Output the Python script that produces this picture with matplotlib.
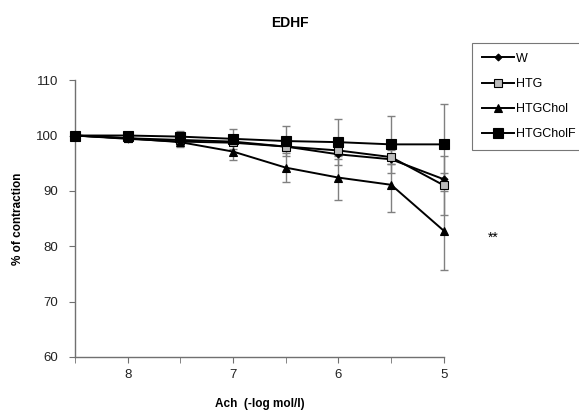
import numpy as np
import matplotlib
matplotlib.use("Agg")
import matplotlib.pyplot as plt

# data
ach = [8.5, 8, 7.5, 7, 6.5, 6, 5.5, 5]

w = [100, 99.4, 98.9, 98.7, 98.0, 96.6, 95.7, 92.1]
w_err = [0, 0.3, 0.4, 0.5, 0.6, 0.8, 0.9, 1.2]

htg = [100, 99.5, 99.2, 98.9, 98.0, 97.3, 96.1, 91.0]
htg_err = [0, 0.4, 0.5, 0.6, 0.8, 1.0, 1.3, 5.3]

htg_chol = [100, 99.5, 98.8, 97.1, 94.2, 92.4, 91.1, 82.8]
htg_chol_err = [0, 0.4, 0.8, 1.6, 2.6, 4.0, 4.9, 7.1]

htg_chol_f = [100, 100, 99.8, 99.4, 99.0, 98.8, 98.4, 98.4]
htg_chol_f_err = [0, 0.3, 1.1, 1.8, 2.7, 4.2, 5.1, 7.2]

labels = ["W", "HTG", "HTGChol", "HTGCholF"]

plt.rcParams['font.family'] = ['Liberation Sans', 'DejaVu Sans']

fig = plt.figure(figsize=(5.79, 4.12), dpi=100)
ax = fig.add_axes([0.1295, 0.1335, 0.637, 0.672])

series = [
    (w, w_err, dict(marker='D', markersize=3.5, markerfacecolor='black')),
    (htg, htg_err, dict(marker='s', markersize=5.5, markerfacecolor='#bbbbbb')),
    (htg_chol, htg_chol_err, dict(marker='^', markersize=6, markerfacecolor='black')),
    (htg_chol_f, htg_chol_f_err, dict(marker='s', markersize=7, markerfacecolor='black')),
]

handles = []
for (vals, err, style), lab in zip(series, labels):
    eb = ax.errorbar(ach, vals, yerr=err, fmt='none', ecolor='#808080',
                     elinewidth=1, capsize=3, capthick=1, zorder=2)
    for art in eb.get_children():
        art.set_clip_on(False)
    h, = ax.plot(ach, vals, color='black', linewidth=1.4,
                 markeredgecolor='black', markeredgewidth=0.8,
                 label=lab, zorder=3, clip_on=False, **style)
    handles.append(h)

ax.set_xlim(8.5, 5)
ax.set_ylim(60, 110)
ax.set_xticks([8, 7, 6, 5])
ax.set_xticks([8.5, 7.5, 6.5, 5.5], minor=True)
ax.set_yticks([60, 70, 80, 90, 100, 110])

for s in ['top', 'right']:
    ax.spines[s].set_visible(False)
for s in ['left', 'bottom']:
    ax.spines[s].set_color('#707070')
    ax.spines[s].set_linewidth(1)

ax.tick_params(axis='both', which='both', direction='out', length=4,
               color='#707070', labelsize=9.5, labelcolor='#222222')
ax.tick_params(axis='x', pad=5)
ax.tick_params(axis='y', pad=8)

fig.text(0.50, 0.945, "EDHF", ha='center', va='center',
         fontsize=10, fontweight='bold')
ax.set_xlabel("Ach  (-log mol/l)", fontsize=8.5, fontweight='bold', labelpad=12)
ax.set_ylabel("% of contraction", fontsize=8.5, fontweight='bold', labelpad=9)

ax.text(1.135, 0.43, "**", transform=ax.transAxes, fontsize=10,
        ha='center', va='center')

leg = fig.legend(handles=handles, loc='upper left',
                 bbox_to_anchor=(0.815, 0.896), borderaxespad=0,
                 frameon=True, fancybox=False,
                 edgecolor='#555555', fontsize=9, handlelength=2.6,
                 handletextpad=0.1, labelspacing=1.05, borderpad=0.8)
leg.get_frame().set_linewidth(0.8)

fig.savefig("out.png", dpi=100)
